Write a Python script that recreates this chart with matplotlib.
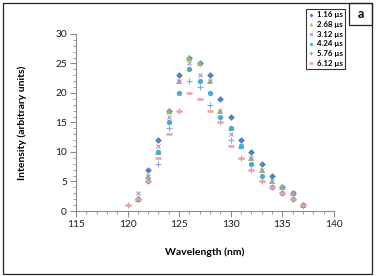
import numpy as np
import matplotlib
matplotlib.use("Agg")
import matplotlib.pyplot as plt
from matplotlib.ticker import MultipleLocator
from matplotlib.patches import Rectangle

plt.rcParams['font.family'] = ['Lato', 'DejaVu Sans']

# wavelength (nm) and intensities per delay time, NaN = no point
wavelength = np.arange(120, 138)
nan = np.nan
i_116 = [nan, 2, 7, 12, 17, 23, 26, 25, 23, 19, 16, 12, 10, 8, 6, 4, 3, 1]
i_268 = [nan, 2, 6, 10, 17, 22, 26, 25, 22, 17, 14, 11, 9, 7, 5, 4, 3, 1]
i_312 = [nan, 3, 6, 11, 16, 22, 25, 23, 22, 17, 13, 11, 9, 7, 5, 4, 3, 1]
i_424 = [nan, 2, 5, 10, 15, 20, 24, 22, 20, 16, 14, 11, 8, 6, 4, 3, 2, 1]
i_576 = [1, 2, 5, 8, 14, 17, 22, 21, 18, 15, 12, 9, 7, 5, 4, 3, 2, 1]
i_612 = [1, 2, 5, 9, 13, 17, 20, 19, 17, 15, 11, 9, 7, 5, 4, 3, 2, 1]

labels = ['1.16 µs', '2.68 µs', '3.12 µs', '4.24 µs', '5.76 µs', '6.12 µs']
series = [i_116, i_268, i_312, i_424, i_576, i_612]
styles = [
    dict(marker='D', ms=3.4, color='#4F7FC4', mew=0),
    dict(marker='^', ms=4.3, color='#9BBB59', mew=0),
    dict(marker='x', ms=3.4, color='#A898C8', mew=0.8),
    dict(marker='o', ms=3.8, color='#4BACC6', mew=0),
    dict(marker='+', ms=5, color='#8FA8DC', mew=0.8),
    dict(marker='_', ms=3.8, color='#F0A0A0', mew=1.8),
]

fig = plt.figure(figsize=(3.76, 2.76), dpi=100)
ax = fig.add_axes([0.202, 0.2355, 0.686, 0.6415])

for y, lab, st in zip(series, labels, styles):
    ax.plot(wavelength, y, linestyle='none', label=lab, **st)

ax.set_xlim(115, 140)
ax.set_ylim(0, 30)
ax.xaxis.set_major_locator(MultipleLocator(5))
ax.xaxis.set_minor_locator(MultipleLocator(1))
ax.yaxis.set_major_locator(MultipleLocator(5))
ax.yaxis.set_minor_locator(MultipleLocator(1))

for s in ['top', 'right']:
    ax.spines[s].set_visible(False)
for s in ['left', 'bottom']:
    ax.spines[s].set_color('#8C8C8C')
    ax.spines[s].set_linewidth(0.8)

ax.tick_params(which='major', direction='out', length=4, width=0.8,
               color='#8C8C8C', labelsize=7.3, pad=2.5, labelcolor='#1a1a1a')
ax.tick_params(which='minor', direction='out', length=2, width=0.6,
               color='#8C8C8C')

ax.set_xlabel('Wavelength (nm)', fontsize=7.5, fontweight='bold', labelpad=13)
ax.set_ylabel('Intensity (arbitrary units)', fontsize=7.5, fontweight='bold',
              labelpad=20)

leg = fig.legend(loc='upper left', bbox_to_anchor=(306 / 376, 1 - 9 / 276),
                 fontsize=5.6, frameon=True, fancybox=False, edgecolor='black',
                 handlelength=0.6, handletextpad=0.5, borderpad=0.3,
                 labelspacing=0.35, borderaxespad=0, markerscale=0.6)
leg.get_frame().set_linewidth(0.8)
for t in leg.get_texts():
    t.set_fontweight('bold')

# outer border and panel label box
fig.add_artist(Rectangle((3 / 376, 2 / 276), 369 / 376, 271 / 276,
                         transform=fig.transFigure, fill=False,
                         edgecolor='#222222', linewidth=0.9))
fig.add_artist(Rectangle((349 / 376, 1 - 25 / 276), 23 / 376, 22 / 276,
                         transform=fig.transFigure, fill=False,
                         edgecolor='#222222', linewidth=0.9))
fig.text(360.5 / 376, 1 - 14 / 276, 'a', fontsize=9, fontweight='bold',
         ha='center', va='center')

fig.savefig('out.png', dpi=100)
